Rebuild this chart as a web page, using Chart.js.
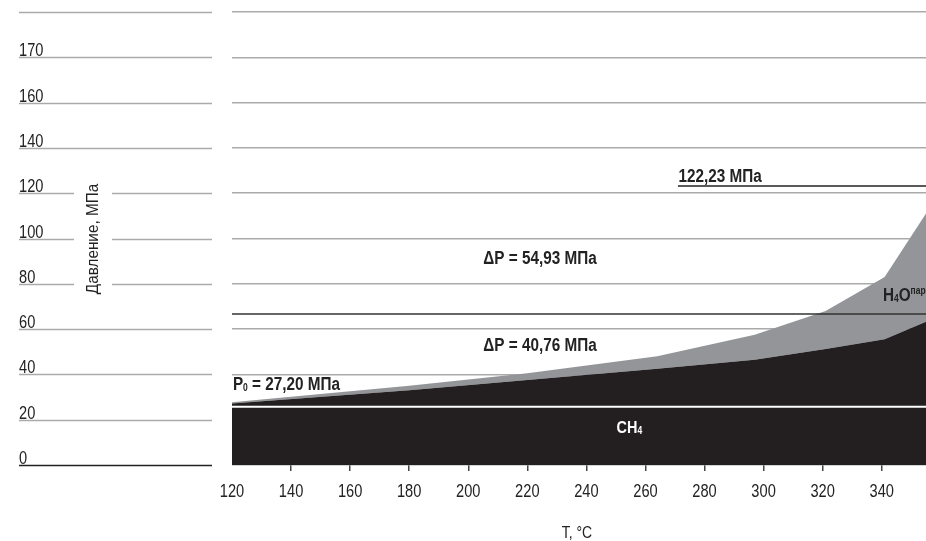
<!DOCTYPE html>
<html lang="ru">
<head>
    <meta charset="UTF-8">
    <title>Давление, МПа</title>
    <script src="https://cdn.jsdelivr.net/npm/chart.js"></script>
    <style>
        body { margin: 0; background: #fff; }
        .wrap { width: 926px; height: 541px; }
    </style>
</head>
<body>
    <div class="wrap"><canvas id="chart" width="926" height="541"></canvas></div>

    <script>
        // temperature points, °C
        const temps = [120, 180, 220, 264, 297, 321, 341, 355];
        // top of CH4 area (black), MPa
        const ch4Top = [27.2, 33, 37.5, 42.5, 46.5, 51.2, 55.5, 63.3];
        // top of H2O steam area (grey), MPa
        const h2oTop = [27.7, 35, 40.5, 48, 57.5, 68, 83, 111];

        // horizontal reference lines, MPa
        const baseLine = 25.7;
        const midLine = 66.7;
        const topLine = 123.2;
        const topLineStart = 271;

        const xTicks = [120, 140, 160, 180, 200, 220, 240, 260, 280, 300, 320, 340];
        const yTickValues = [0, 20, 40, 60, 80, 100, 120, 140, 160, 180, 200];
        const yTickLabels = ['0', '20', '40', '60', '80', '100', '120', '140', '160', '170', ''];

        const FONT = "'Liberation Sans', Arial, sans-serif";

        const pts = (ys) => temps.map((t, i) => ({ x: t, y: ys[i] }));
        const hline = (x0, y) => [{ x: x0, y: y }, { x: temps[temps.length - 1], y: y }];

        // no narrow face installed, so squeeze text horizontally
        function narrowText(ctx, text, x, y, align, k) {
            ctx.save();
            ctx.translate(x, y);
            ctx.scale(k, 1);
            ctx.textAlign = align;
            ctx.fillText(text, 0, 0);
            ctx.restore();
        }

        function richText(ctx, parts, x, y, k) {
            let cx = x;
            parts.forEach(p => {
                ctx.font = p.font;
                narrowText(ctx, p.t, cx, y + (p.dy || 0), 'left', k);
                cx += ctx.measureText(p.t).width * k;
            });
            return cx - x;
        }

        const decor = {
            id: 'decor',
            afterDraw(chart) {
                const ctx = chart.ctx;
                const xs = chart.scales.x, ys = chart.scales.y;
                ctx.save();
                ctx.textBaseline = 'alphabetic';

                // left panel: value labels and their lines
                yTickValues.forEach((v, i) => {
                    const py = Math.round(ys.getPixelForValue(v)) + 0.5;
                    ctx.strokeStyle = v === 0 ? '#222' : '#aaa';
                    ctx.lineWidth = 1.5;
                    ctx.beginPath();
                    if (v >= 80 && v <= 120) {
                        ctx.moveTo(19, py); ctx.lineTo(74, py);
                        ctx.moveTo(112, py); ctx.lineTo(212, py);
                    } else {
                        ctx.moveTo(19, py); ctx.lineTo(212, py);
                    }
                    ctx.stroke();
                    ctx.fillStyle = '#222';
                    ctx.font = '19px ' + FONT;
                    narrowText(ctx, yTickLabels[i], 19, py - 2, 'left', 0.77);
                });

                // x tick labels
                ctx.font = '19px ' + FONT;
                xTicks.forEach(v => {
                    narrowText(ctx, String(v), xs.getPixelForValue(v), 497, 'center', 0.77);
                });

                // y axis title
                ctx.save();
                ctx.translate(98, 239);
                ctx.rotate(-Math.PI / 2);
                ctx.font = '17px ' + FONT;
                narrowText(ctx, 'Давление, МПа', 0, 0, 'center', 0.9);
                ctx.restore();

                // x axis title
                ctx.font = '17px ' + FONT;
                narrowText(ctx, 'T, °C', 577, 538, 'center', 0.82);

                // annotations
                const K = 0.85;
                const B = 'bold 18px ' + FONT;
                const S = 'bold 10px ' + FONT;
                ctx.fillStyle = '#222';
                richText(ctx, [{ t: 'P', font: B }, { t: '0', font: S, dy: 1 }, { t: ' = 27,20 МПа', font: B }],
                    xs.getPixelForValue(120.3), ys.getPixelForValue(33.1), K);

                ctx.font = B;
                narrowText(ctx, 'ΔP = 54,93 МПа', xs.getPixelForValue(224.3), ys.getPixelForValue(88.7), 'center', K);
                narrowText(ctx, 'ΔP = 40,76 МПа', xs.getPixelForValue(224.3), ys.getPixelForValue(50.3), 'center', K);
                narrowText(ctx, '122,23 МПа', xs.getPixelForValue(271.2), ys.getPixelForValue(124.9), 'left', K);

                ctx.fillStyle = '#fff';
                richText(ctx, [{ t: 'CH', font: 'bold 17px ' + FONT }, { t: '4', font: S, dy: 1 }],
                    xs.getPixelForValue(250.2), ys.getPixelForValue(14.1), K);

                ctx.fillStyle = '#222';
                richText(ctx, [{ t: 'H', font: B }, { t: '4', font: S, dy: 1 }, { t: 'O', font: B }, { t: 'пар', font: S, dy: -7 }],
                    xs.getPixelForValue(340.4), ys.getPixelForValue(72.4), K);

                ctx.restore();
            }
        };

        new Chart(document.getElementById('chart'), {
            type: 'line',
            data: {
                datasets: [
                    {
                        label: 'base',
                        data: hline(120, baseLine),
                        borderColor: '#ffffff',
                        borderWidth: 2,
                        pointRadius: 0,
                        fill: false,
                        order: 1
                    },
                    {
                        label: 'mid',
                        data: hline(120, midLine),
                        borderColor: '#333333',
                        borderWidth: 1.5,
                        pointRadius: 0,
                        fill: false,
                        order: 1
                    },
                    {
                        label: 'top',
                        data: hline(topLineStart, topLine),
                        borderColor: '#222222',
                        borderWidth: 1.5,
                        pointRadius: 0,
                        fill: false,
                        order: 1
                    },
                    {
                        label: 'CH4',
                        data: pts(ch4Top),
                        borderWidth: 0,
                        borderColor: '#231f20',
                        backgroundColor: '#231f20',
                        pointRadius: 0,
                        tension: 0,
                        fill: 'origin',
                        order: 5
                    },
                    {
                        label: 'H2O',
                        data: pts(h2oTop),
                        borderWidth: 0,
                        borderColor: '#939598',
                        backgroundColor: '#939598',
                        pointRadius: 0,
                        tension: 0,
                        fill: 3,
                        order: 6
                    }
                ]
            },
            options: {
                responsive: false,
                animation: false,
                layout: { padding: { left: 232, right: 0, top: 12, bottom: 70 } },
                plugins: { legend: { display: false }, tooltip: { enabled: false } },
                scales: {
                    x: {
                        type: 'linear',
                        min: 120,
                        max: 355,
                        afterBuildTicks: (s) => { s.ticks = xTicks.map(v => ({ value: v })); },
                        border: { display: false },
                        grid: {
                            drawOnChartArea: false,
                            tickLength: 6,
                            lineWidth: 1.5,
                            color: (c) => (c.tick && c.tick.value === 120) ? 'rgba(0,0,0,0)' : '#444'
                        },
                        ticks: { display: false }
                    },
                    y: {
                        min: 0,
                        max: 200,
                        afterBuildTicks: (s) => { s.ticks = yTickValues.map(v => ({ value: v })); },
                        border: { display: false },
                        grid: { color: '#aaa', lineWidth: 1.5, drawTicks: false },
                        ticks: { display: false }
                    }
                }
            },
            plugins: [decor]
        });
    </script>
</body>
</html>
